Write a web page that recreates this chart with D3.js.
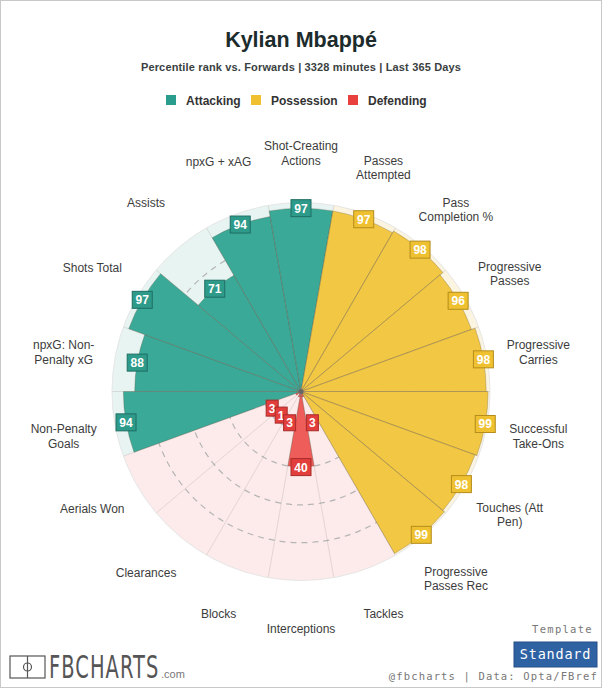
<!DOCTYPE html>
<html><head><meta charset="utf-8">
<script src="https://cdn.jsdelivr.net/npm/d3@7"></script>
<style>
html,body{margin:0;padding:0;background:#fff;}
svg{display:block;}
</style></head>
<body>
<svg id="chart" width="602" height="688"></svg>
<script>
// ---- data ----
const categories = ["Non-Penalty Goals","npxG: Non-Penalty xG","Shots Total","Assists","npxG + xAG","Shot-Creating Actions",
  "Passes Attempted","Pass Completion %","Progressive Passes","Progressive Carries","Successful Take-Ons","Touches (Att Pen)","Progressive Passes Rec",
  "Tackles","Interceptions","Blocks","Clearances","Aerials Won"];
const labelLines = [["Non-Penalty","Goals"],["npxG: Non-","Penalty xG"],["Shots Total"],["Assists"],["npxG + xAG"],["Shot-Creating","Actions"],
  ["Passes","Attempted"],["Pass","Completion %"],["Progressive","Passes"],["Progressive","Carries"],["Successful","Take-Ons"],["Touches (Att","Pen)"],["Progressive","Passes Rec"],
  ["Tackles"],["Interceptions"],["Blocks"],["Clearances"],["Aerials Won"]];
const groups = ["Attacking","Attacking","Attacking","Attacking","Attacking","Attacking",
  "Possession","Possession","Possession","Possession","Possession","Possession","Possession",
  "Defending","Defending","Defending","Defending","Defending"];
const values = [94,88,97,71,94,97, 97,98,96,98,99,98,99, 3,40,3,1,3];
const groupNames = ["Attacking","Possession","Defending"];
const gridTicks = [20,40,60,80];

// ---- styles ----
const barColor = {Attacking:"#3aa998",Possession:"#f2c744",Defending:"#ee5d59"};
const bgColor = {Attacking:"#e7f4f2",Possession:"#fbf4e0",Defending:"#fdebeb"};
const boxColor = {Attacking:"#2e9a8a",Possession:"#efc131",Defending:"#e23f3c"};
const boxStroke = {Attacking:"#1f6e63",Possession:"#b48d1b",Defending:"#a92a28"};
const legendColor = {Attacking:"#2a9d8f",Possession:"#f0c030",Defending:"#e8403c"};

const svg = d3.select("#chart");
const W = 602, H = 688;
const cx = 301, cy = 391.5, R = 189;

svg.append("rect").attr("x",0.5).attr("y",0.5).attr("width",W-1).attr("height",H-1)
  .attr("fill","#fff").attr("stroke","#c8c8c8");

// title
svg.append("text").attr("x",301).attr("y",47).attr("text-anchor","middle")
  .attr("font-family","Liberation Sans, Arial, sans-serif").attr("font-weight","bold")
  .attr("font-size",21.5).attr("fill","#1c2b2b").text("Kylian Mbappé");
svg.append("text").attr("x",301).attr("y",70.5).attr("text-anchor","middle")
  .attr("font-family","Liberation Sans, Arial, sans-serif").attr("font-weight","bold")
  .attr("font-size",11).attr("letter-spacing",0.15).attr("fill","#3a3f3f").text("Percentile rank vs. Forwards | 3328 minutes | Last 365 Days");

// legend
const legendX = [166, 251, 348];
const lg = svg.append("g");
groupNames.forEach((g,i)=>{
  lg.append("rect").attr("x",legendX[i]).attr("y",95).attr("width",10).attr("height",10).attr("fill",legendColor[g]);
  lg.append("text").attr("x",legendX[i]+20).attr("y",105).attr("font-family","Liberation Sans, Arial, sans-serif")
    .attr("font-weight","bold").attr("font-size",12).attr("fill","#333").text(g);
});

// scales
const start = (260-10)*Math.PI/180;
const x = d3.scaleBand().domain(categories).range([start, start+2*Math.PI]).padding(0);
const r = d3.scaleLinear().domain([0,100]).range([0,R]);

const g = svg.append("g").attr("transform",`translate(${cx},${cy})`);
const arc = d3.arc();

// backgrounds
g.selectAll("path.bg").data(categories).join("path").attr("class","bg")
  .attr("d",(d)=>arc({innerRadius:0,outerRadius:r(100),startAngle:x(d),endAngle:x(d)+x.bandwidth()}))
  .attr("fill",(d,i)=>bgColor[groups[i]]);

// dashed grid
g.selectAll("circle.grid").data(gridTicks).join("circle").attr("class","grid")
  .attr("r",d=>r(d)).attr("fill","none").attr("stroke","#b5b5b5").attr("stroke-width",1.2)
  .attr("stroke-dasharray","6,5");

// bars
g.selectAll("path.bar").data(categories).join("path").attr("class","bar")
  .attr("d",(d,i)=>arc({innerRadius:0,outerRadius:r(values[i]),startAngle:x(d),endAngle:x(d)+x.bandwidth()}))
  .attr("fill",(d,i)=>barColor[groups[i]]).attr("stroke","rgba(90,80,60,0.35)").attr("stroke-width",0.8);

// spokes
g.selectAll("line.spoke").data(categories).join("line").attr("class","spoke")
  .attr("x1",0).attr("y1",0)
  .attr("x2",d=>r(100)*Math.sin(x(d))).attr("y2",d=>-r(100)*Math.cos(x(d)))
  .attr("stroke","rgba(120,110,100,0.25)").attr("stroke-width",0.8);

// outer circle
g.append("circle").attr("r",r(100)).attr("fill","none").attr("stroke","#e6e6e6").attr("stroke-width",1);
g.append("circle").attr("r",2.5).attr("fill","#666");

// value labels (drawn in reverse order so overlapping small boxes stack like the reference)
const idx = d3.range(categories.length).reverse();
const vl = g.selectAll("g.vl").data(idx).join("g").attr("class","vl")
  .attr("transform",(i)=>{
    const d = categories[i];
    const a = x(d)+x.bandwidth()/2;
    const rr = r(Math.max(values[i], values[i] < 2 ? 16.3 : 17.6));
    return `translate(${rr*Math.sin(a)},${-rr*Math.cos(a)})`;
  });
vl.append("rect").attr("x",i=>values[i]>=10?-10:-6).attr("y",i=>values[i]>=10?-8.5:-8)
  .attr("width",i=>values[i]>=10?20:12).attr("height",i=>values[i]>=10?17:16)
  .attr("fill",i=>boxColor[groups[i]]).attr("stroke",i=>boxStroke[groups[i]]).attr("stroke-width",1);
vl.append("text").attr("text-anchor","middle").attr("y",4.5)
  .attr("font-family","Liberation Sans, Arial, sans-serif").attr("font-weight","bold").attr("font-size",12)
  .attr("fill","#fff").text(i=>values[i]);

// category labels
const cl = g.selectAll("text.cat").data(categories).join("text").attr("class","cat")
  .attr("text-anchor","middle").attr("font-family","Liberation Sans, Arial, sans-serif")
  .attr("font-size",12).attr("fill","#3c3c3c")
  .attr("transform",(d)=>{
    const a = x(d)+x.bandwidth()/2; const rr = 241;
    return `translate(${rr*Math.sin(a)},${-rr*Math.cos(a)})`;
  });
cl.each(function(d,i){
  const lines = labelLines[i]; const n = lines.length;
  d3.select(this).selectAll("tspan").data(lines).join("tspan")
    .attr("x",0).attr("y",(l,j)=> n===1 ? 0.5 : (j-0.5)*14.5+7).text(l=>l);
});

// footer
svg.append("text").attr("x",593).attr("y",633).attr("text-anchor","end")
  .attr("font-family","DejaVu Sans Mono, monospace").attr("font-size",10.5).attr("letter-spacing",1.3)
  .attr("fill","#777").text("Template");
svg.append("rect").attr("x",514).attr("y",642).attr("width",83).attr("height",25).attr("fill","#2f62a3").attr("stroke","#244f86");
svg.append("text").attr("x",555.5).attr("y",659).attr("text-anchor","middle")
  .attr("font-family","DejaVu Sans Mono, monospace").attr("font-size",13.5).attr("letter-spacing",0.8)
  .attr("fill","#fff").text("Standard");
svg.append("text").attr("x",598).attr("y",680).attr("text-anchor","end")
  .attr("font-family","DejaVu Sans Mono, monospace").attr("font-size",10.5).attr("letter-spacing",1.15)
  .attr("fill","#777").text("@fbcharts | Data: Opta/FBref");

// logo
const logo = svg.append("g");
logo.append("rect").attr("x",10).attr("y",656).attr("width",35).attr("height",22).attr("fill","none").attr("stroke","#555").attr("stroke-width",1.2);
logo.append("line").attr("x1",27.5).attr("y1",656).attr("x2",27.5).attr("y2",678).attr("stroke","#555").attr("stroke-width",1.2);
logo.append("circle").attr("cx",27.5).attr("cy",667).attr("r",4).attr("fill","none").attr("stroke","#555").attr("stroke-width",1.2);
logo.append("text").attr("x",49).attr("y",678).attr("font-family","DejaVu Sans Condensed, Liberation Sans Narrow, sans-serif")
  .attr("font-size",30).attr("fill","#555").attr("letter-spacing",1.5)
  .attr("transform","translate(49,678) scale(0.72,1.08) translate(-49,-678)").text("FBCHARTS");
logo.append("text").attr("x",161).attr("y",678).attr("font-family","Liberation Sans, Arial, sans-serif")
  .attr("font-size",11).attr("fill","#777").text(".com");
</script>
</body></html>
